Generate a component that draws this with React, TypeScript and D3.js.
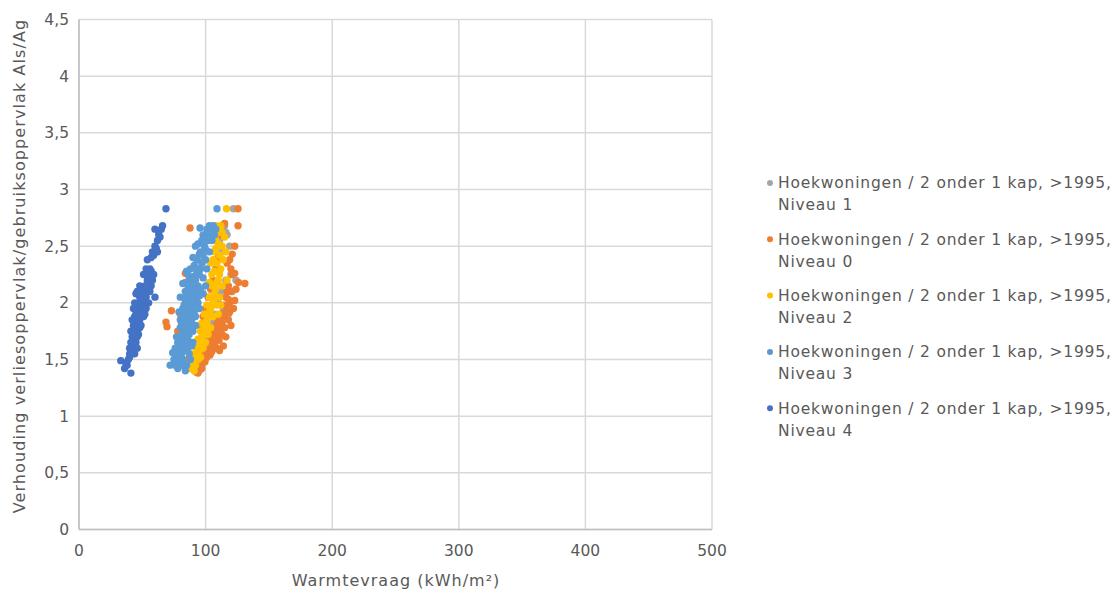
import React from "react";
import * as d3 from "d3";

const xTicks = [0, 100, 200, 300, 400, 500];
const yTicks = [0, 0.5, 1, 1.5, 2, 2.5, 3, 3.5, 4, 4.5];
const xTitle = "Warmtevraag (kWh/m²)";
const yTitle = "Verhouding verliesoppervlak/gebruiksoppervlak Als/Ag";

const niveau1: [number, number][] = [
  [122, 2.83], [115, 2.68], [117, 2.6], [120, 2.25], [116, 2.2], [112, 2.1], [110, 2.0], [114, 1.95],
  [108, 1.9], [106, 1.82], [104, 1.75], [102, 1.68], [100, 1.6], [98, 1.52], [97, 1.45], [95, 1.4],
  [111, 2.55], [113, 2.45], [109, 2.3], [107, 2.15], [105, 2.05], [103, 1.95], [101, 1.85], [99, 1.7],
  [96, 1.55], [119, 2.5], [121, 2.1], [118, 1.9], [92, 1.48], [124, 2.2], [116, 2.62],
];

const niveau0: [number, number][] = [
  [68.7, 1.83], [69.5, 1.79], [73, 1.93], [84, 2.26], [84, 2.18], [87.7, 2.66], [117, 2.35], [121, 2.43],
  [125.6, 2.68], [125.6, 2.83], [131, 2.17], [123, 2.02], [118, 1.85], [113, 1.72], [110.6, 1.67], [103.5, 1.54],
  [99.5, 1.48], [92.4, 1.39], [95.6, 1.45], [107, 1.63], [120, 2.1], [118, 2.15], [116, 2.05], [114, 1.98],
  [112, 1.9], [110, 1.85], [108, 1.8], [106, 1.75], [104, 1.7], [102, 1.65], [100, 1.58], [98, 1.55],
  [119, 2.0], [117, 1.95], [115, 1.88], [113, 1.82], [111, 1.78], [109, 1.72], [105, 1.6], [101, 1.52],
  [97, 1.42], [94, 1.38], [121, 2.25], [123, 2.26], [123, 2.5], [119, 2.38], [115, 2.7], [112, 2.6],
  [110, 2.4], [108, 2.3], [106, 2.2], [104, 2.12], [102, 2.05], [100, 1.95], [98, 1.88], [96, 1.8],
  [86, 1.5], [84, 1.6], [83, 1.72], [78, 1.75], [80, 1.9], [124, 2.12], [126, 2.18], [122, 1.95],
  [120, 1.8], [116, 1.7], [114, 1.62], [111, 1.58], [119, 1.92], [115, 1.78], [104, 1.62], [106, 1.68],
  [108, 1.73], [110, 1.78], [112, 1.84], [114, 1.9], [116, 1.96], [118, 2.03], [104, 1.56], [109, 1.6],
  [105, 1.57], [107, 1.69], [117, 2.1], [120, 2.3],
];

const niveau2: [number, number][] = [
  [116.5, 2.83], [112, 2.68], [110, 2.62], [108, 2.55], [113, 2.5], [111, 2.42], [109, 2.35], [107, 2.28],
  [112, 2.3], [110, 2.2], [105, 2.15], [108, 2.12], [103, 2.05], [106, 2.02], [101, 1.98], [104, 1.95],
  [99, 1.9], [102, 1.88], [97, 1.82], [100, 1.8], [96, 1.75], [99, 1.72], [94, 1.68], [97, 1.65],
  [93, 1.6], [95, 1.58], [92, 1.55], [94, 1.5], [90, 1.48], [92, 1.45], [88, 1.42], [91, 1.4],
  [115, 2.58], [116, 2.45], [114, 2.38], [106, 1.88], [104, 1.78], [102, 1.72], [100, 1.65], [98, 1.6],
  [107, 2.45], [105, 2.25], [103, 2.18], [111, 2.05], [109, 1.98], [96, 1.52], [89, 1.55], [117, 2.2],
  [113, 2.15], [108, 2.68], [90, 1.52], [93, 1.56], [95, 1.62], [97, 1.7], [99, 1.78], [101, 1.84],
  [103, 1.92], [105, 1.98], [107, 2.08], [109, 2.18], [111, 2.25], [104, 2.35], [106, 2.38], [108, 2.48],
  [110, 2.52], [113, 2.62], [112, 1.98], [110, 1.9], [86, 1.45],
];

const niveau3: [number, number][] = [
  [72, 1.45], [75, 1.5], [78, 1.42], [80, 1.48], [82, 1.5], [85, 1.45], [88, 1.5], [77, 1.55],
  [80, 1.6], [83, 1.58], [86, 1.6], [89, 1.62], [78, 1.65], [81, 1.7], [84, 1.68], [87, 1.72],
  [90, 1.75], [80, 1.78], [83, 1.8], [86, 1.82], [89, 1.85], [92, 1.88], [82, 1.9], [85, 1.92],
  [88, 1.95], [91, 1.98], [94, 2.0], [84, 2.02], [87, 2.05], [90, 2.08], [93, 2.1], [96, 2.12],
  [86, 2.15], [89, 2.18], [92, 2.2], [95, 2.25], [98, 2.22], [94, 2.3], [97, 2.35], [100, 2.38],
  [96, 2.45], [99, 2.5], [102, 2.55], [100, 2.6], [104, 2.62], [106, 2.68], [109, 2.83], [108, 2.65],
  [103, 2.68], [95.6, 2.66], [80, 1.85], [82, 1.95], [84, 2.1], [86, 2.25], [88, 2.3], [90, 2.4],
  [92, 2.5], [82, 2.17], [95, 2.43], [97, 2.36], [85, 1.75], [87, 1.9], [91, 1.92], [93, 2.05],
  [83, 1.65], [79, 1.52], [76, 1.6], [81, 1.55], [87, 1.55], [90, 1.65], [92, 1.8], [95, 1.95],
  [98, 2.08], [100, 2.15], [101, 2.3], [103, 2.45], [105, 2.55], [107, 2.6], [94, 2.52], [98, 2.6],
  [84, 1.4], [74, 1.56], [85, 2.28], [76, 1.45], [79, 1.47], [83, 1.44], [81, 1.62], [84, 1.63],
  [86, 1.67], [82, 1.73], [85, 1.78], [88, 1.8], [81, 1.82], [84, 1.86], [87, 1.88], [90, 1.9],
  [83, 1.98], [86, 1.99], [89, 2.0], [92, 2.02], [85, 2.07], [88, 2.1], [91, 2.13], [94, 2.15],
  [87, 2.2], [90, 2.23], [93, 2.27], [91, 2.33], [96, 2.3], [93, 2.38], [98, 2.42], [100, 2.47],
  [97, 2.55], [101, 2.65], [105, 2.6], [78, 1.58], [77, 1.7], [79, 1.92], [95, 2.06], [80, 2.05],
];

const niveau4: [number, number][] = [
  [33, 1.49], [36, 1.42], [38, 1.45], [41, 1.38], [40, 1.55], [40, 1.6], [41, 1.65], [42, 1.7],
  [41, 1.75], [43, 1.8], [42, 1.85], [44, 1.88], [45, 1.9], [43, 1.95], [46, 1.98], [47, 2.0],
  [48, 2.05], [50, 2.1], [49, 2.12], [52, 2.15], [54, 2.2], [55, 2.27], [56, 2.3], [57, 2.4],
  [58, 2.45], [60, 2.5], [62, 2.55], [63, 2.6], [60, 2.65], [65, 2.65], [66, 2.68], [68.7, 2.83],
  [54, 2.38], [45, 1.82], [47, 1.9], [50, 1.95], [52, 2.0], [48, 1.85], [46, 1.75], [44, 1.7],
  [43, 1.62], [45, 1.65], [47, 1.72], [49, 1.8], [51, 1.88], [53, 2.05], [55, 2.12], [58, 2.2],
  [60, 2.05], [44, 2.0], [46, 2.1], [48, 2.15], [51, 2.25], [53, 2.3], [57, 2.28], [62, 2.45],
  [64, 2.58], [50, 2.0], [49, 1.95], [51, 2.05], [53, 1.95], [46, 1.6], [42, 1.58], [40, 1.52],
  [44, 1.55], [48, 1.78], [52, 1.9], [55, 2.0], [57, 2.15], [59, 2.25], [56, 2.1], [45, 2.08],
  [44, 1.78], [46, 1.85], [47, 1.95], [49, 2.02], [50, 2.06], [52, 2.1], [54, 2.15], [46, 1.7],
  [43, 1.75], [45, 1.95], [42, 1.65], [51, 1.97], [56, 2.22], [59, 2.42], [61, 2.48], [63, 2.63],
  [37, 1.47], [39, 1.5],
];

const seriesNames = [
  "Hoekwoningen / 2 onder 1 kap, >1995, Niveau 1",
  "Hoekwoningen / 2 onder 1 kap, >1995, Niveau 0",
  "Hoekwoningen / 2 onder 1 kap, >1995, Niveau 2",
  "Hoekwoningen / 2 onder 1 kap, >1995, Niveau 3",
  "Hoekwoningen / 2 onder 1 kap, >1995, Niveau 4",
];
const seriesData = [niveau1, niveau0, niveau2, niveau3, niveau4];
const seriesColors = ["#A5A5A5", "#ED7D31", "#FFC000", "#5B9BD5", "#4472C4"];

const fmt = (v: number) => String(v).replace(".", ",");

export default function App() {
  const W = 1120, H = 594;
  const left = 79, right = 712, top = 19.5, bottom = 529.5;
  const x = d3.scaleLinear().domain([0, 500]).range([left, right]);
  const y = d3.scaleLinear().domain([0, 4.5]).range([bottom, top]);
  const font = "'DejaVu Sans', Verdana, sans-serif";
  const txt = "#595959";

  return (
    <svg width={W} height={H} style={{ position: "absolute", left: 0, top: 0 }} fontFamily={font}>
      <rect width={W} height={H} fill="#fff" />
      {yTicks.map((t) => (
        <line key={"gy" + t} x1={left} x2={right} y1={y(t)} y2={y(t)} stroke="#d9d9d9" strokeWidth={1.5} />
      ))}
      {xTicks.map((t) => (
        <line key={"gx" + t} x1={x(t)} x2={x(t)} y1={top} y2={bottom} stroke="#d9d9d9" strokeWidth={1.5} />
      ))}
      <line x1={left} x2={right} y1={bottom} y2={bottom} stroke="#bfbfbf" strokeWidth={1.5} />
      <line x1={left} x2={left} y1={top} y2={bottom} stroke="#bfbfbf" strokeWidth={1.5} />
      {yTicks.map((t) => (
        <text key={"ly" + t} x={69} y={y(t)} dy="0.35em" textAnchor="end" fontSize={15.5} fill={txt}>
          {fmt(t)}
        </text>
      ))}
      {xTicks.map((t) => (
        <text key={"lx" + t} x={x(t)} y={551} dy="0.35em" textAnchor="middle" fontSize={15.5} fill={txt}>
          {t}
        </text>
      ))}
      <text x={396} y={580} dy="0.35em" textAnchor="middle" fontSize={16} letterSpacing={1} fill={txt}>
        {xTitle}
      </text>
      <text transform={`translate(19,266) rotate(-90)`} dy="0.35em" textAnchor="middle" fontSize={16} letterSpacing={1.1} fill={txt}>
        {yTitle}
      </text>
      {seriesData.map((data, i) => (
        <g key={"s" + i}>
          {data.map((d, j) => (
            <circle key={j} cx={x(d[0])} cy={y(d[1])} r={3.7} fill={seriesColors[i]} />
          ))}
        </g>
      ))}
      {seriesNames.map((name, i) => {
        const yy = 183 + i * 56.3;
        const comma = name.lastIndexOf(", ");
        const l1 = name.slice(0, comma + 1);
        const l2 = name.slice(comma + 2);
        return (
          <g key={"lg" + i}>
            <circle cx={770} cy={yy} r={3} fill={seriesColors[i]} />
            <text x={778} y={yy} dy="0.35em" fontSize={15.5} letterSpacing={0.8} fill={txt}>{l1}</text>
            <text x={778} y={yy + 22} dy="0.35em" fontSize={15.5} letterSpacing={0.8} fill={txt}>{l2}</text>
          </g>
        );
      })}
    </svg>
  );
}
